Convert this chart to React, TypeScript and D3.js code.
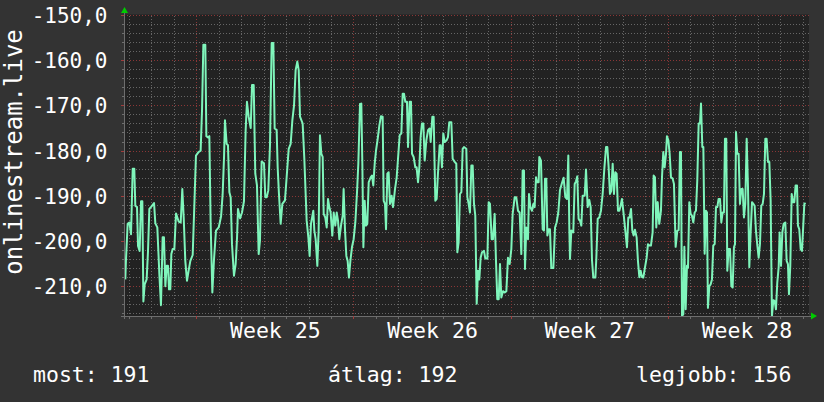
import React from 'react';
import * as d3 from 'd3';

const TITLE = 'onlinestream.live';
const Y_TICKS = [-150, -160, -170, -180, -190, -200, -210];
const WEEK_LABELS = ['Week 25', 'Week 26', 'Week 27', 'Week 28'];
const LEGEND_LABELS = ['most', 'átlag', 'legjobb'];
const LEGEND_VALUES = [191, 192, 156];

// [hours since start of graph window, value]
const SAMPLES: [number, number][] = [
  [1.4,-208.4],[2.1,-204.1],[3.9,-196.1],[5.7,-195.8],[7.5,-198.4],[9.3,-183.9],[11.0,-183.9],[12.1,-192.1],
  [13.9,-192.4],[15.0,-201],[16.7,-202.1],[18.2,-191.1],[19.6,-191.1],[20.7,-213.3],[22.1,-209.5],[24.2,-208.4],
  [25.6,-202.4],[27.1,-192.8],[29.2,-192.3],[32.1,-191.5],[33.5,-196],[35.6,-196.9],[37.8,-207.3],[39.5,-214.1],
  [41.3,-199.1],[42.7,-199.1],[44.2,-209.9],[45.6,-205.4],[47.0,-205.4],[48.1,-210.6],[49.5,-210.6],[50.6,-202.8],
  [52.0,-201.7],[53.8,-201.7],[55.6,-193.8],[58.4,-195.6],[60.6,-195.8],[62.3,-188.4],[63.8,-194.7],[65.5,-204.3],
  [67.3,-208.7],[69.1,-206.4],[70.9,-204.3],[73.4,-203],[75.5,-189.9],[76.9,-181],[79.8,-180.2],[81.9,-179.9],
  [83.4,-170.8],[84.8,-156.5],[86.9,-156.5],[88.0,-176.7],[89.8,-177],[91.2,-176.7],[92.6,-196.1],[94.4,-211.3],
  [96.2,-203.9],[98.3,-197.6],[101.2,-196.9],[103.7,-194.5],[105.4,-189.6],[106.9,-181.3],[107.9,-173.2],[109.7,-178.4],
  [111.1,-178.7],[112.6,-189.1],[114.0,-190.2],[115.4,-200.6],[117.5,-207.6],[119.3,-205],[120.8,-199.1],[121.8,-192.8],
  [124.0,-194.9],[126.1,-193.6],[128.2,-191.1],[130.0,-175.4],[131.4,-169.1],[133.2,-172.4],[135.4,-174.9],[136.8,-165.4],
  [138.6,-165.4],[140.3,-185],[142.1,-187.6],[143.9,-202.8],
  [145.3,-199.9],[147.1,-182.3],[149.6,-182.7],[151.0,-190.2],[152.5,-190.2],[154.2,-188.7],[156.0,-178.7],[157.8,-156.1],
  [159.6,-156.1],[161.0,-175],[163.1,-175.3],[164.2,-183.6],[165.6,-189.5],[167.4,-196.1],[169.2,-191.7],[172.0,-190.9],
  [173.8,-185.8],[176.0,-179.5],[178.1,-178.4],[179.9,-173.2],[181.7,-169.9],[183.4,-162.1],[185.2,-160.2],[186.7,-162.1],
  [188.1,-172.4],[190.9,-173.9],[192.7,-181.7],[195.2,-195.4],[197.0,-199.1],[198.4,-203.2],[199.8,-196.1],[202.3,-193.2],
  [203.4,-197.6],[204.8,-199.5],[206.6,-205.4],[208.0,-197.6],[209.4,-176.5],[210.9,-180.6],[212.3,-181.3],[213.4,-193.9],
  [215.1,-194.7],[216.6,-196.9],[218.0,-190.6],[219.4,-192.4],[220.8,-193.6],[222.6,-198.7],[224.1,-193.6],[225.8,-196.5],
  [227.3,-193.6],[228.7,-195.4],[230.1,-199.5],[231.9,-196.5],[233.7,-194.3],[234.7,-188.4],[236.2,-197.6],[237.6,-203.2],
  [239.0,-204.3],[240.4,-208],[241.9,-204.3],[243.6,-201.3],[245.4,-199.5],[247.2,-195.8],[249.0,-189.1],[250.4,-182.8],
  [252.2,-169.6],[253.6,-169.5],[254.7,-182.8],[255.8,-201.3],[257.2,-191],[258.6,-196.5],[260.0,-196.1],[261.5,-186.9],
  [263.6,-185.8],[265.0,-185.4],[266.4,-187.6],[267.9,-182.8],[269.3,-179.9],[271.1,-177.3],[272.9,-174.3],[274.6,-172.3],
  [276.4,-172.4],[277.5,-191],[278.9,-191.7],[280.0,-197.3],[281.4,-185],[282.8,-184.7],[284.2,-191.7],[286.0,-189.9],
  [287.5,-192.4],[289.6,-188.4],[291.4,-185.8],
  [294.6,-176.5],[296.4,-176.1],[297.8,-167.3],[299.2,-167.3],[300.6,-169.1],[302.4,-169.1],[303.5,-179.1],[305.3,-169.1],
  [306.7,-169.1],[307.8,-180.6],[309.5,-181.3],[311.3,-183.6],[312.7,-183.6],[314.2,-186.9],[315.6,-183.6],[317.0,-176.9],
  [318.4,-173.9],[319.9,-173.9],[321.3,-182.1],[323.1,-177.6],[324.9,-175.4],[326.6,-175],[327.7,-178],[329.5,-172.4],
  [330.9,-172.4],[332.7,-191],[334.1,-190.6],[335.5,-185],[337.3,-178.7],[338.4,-178.7],[339.8,-183.6],[341.2,-176.1],
  [342.7,-178],[344.8,-177.6],[346.2,-176.9],[347.6,-173.6],[349.8,-173.6],[351.2,-181.7],[353.4,-182.4],[355.1,-182.8],
  [356.2,-202.4],[357.6,-200.2],[359.0,-189.5],[360.5,-189.1],[361.9,-179.5],[363.3,-179.1],[365.8,-179.5],[366.9,-190.2],
  [368.3,-191.7],[369.7,-193.6],[371.2,-183.2],[372.6,-183.2],[374.0,-191.7],[375.4,-194.3],[376.9,-213.8],[378.3,-206.5],
  [379.7,-208.4],[381.1,-203.6],[382.6,-202.4],[384.7,-202.1],[386.1,-203.8],[388.3,-203.8],[389.7,-191.3],[391.1,-191.7],
  [392.9,-199.5],[394.3,-199.5],[396.1,-193.9],[397.5,-204.3],[398.9,-212.8],[400.4,-212.8],[401.8,-205],[403.2,-212.4],
  [405.0,-211],[406.8,-211.3],[408.6,-211],[410.3,-203.6],[412.1,-205],[413.9,-201.7],[415.3,-193.9],[417.5,-190.2],
  [419.2,-190.2],[421.0,-193.2],[422.8,-193.6],[424.6,-202.8],[426.0,-184.3],[427.4,-184.3],[428.5,-206.1],[429.9,-196.9],
  [431.7,-199.5],[432.8,-189.5],[434.2,-192.4],[436.0,-193.2],[437.4,-191.7],[438.8,-192.4],[440.3,-185.8],
  [441.3,-186.9],[443.1,-186.9],[443.8,-181.3],[445.6,-182.1],[447.4,-197.3],[448.8,-197.6],[449.9,-186.1],[451.3,-186.1],
  [452.4,-198.7],[453.8,-197.3],[455.2,-197.3],[456.6,-205.9],[458.8,-205.9],[460.6,-196.9],[462.3,-195.8],[464.1,-193.6],
  [465.9,-188.6],[468.0,-187.1],[469.8,-185.9],[471.6,-190.2],[473.4,-190.6],[474.8,-181],[475.9,-197.6],[476.6,-203.9],
  [478.0,-197.6],[480.1,-198],[481.6,-187.3],[483.0,-186.7],[484.4,-185.6],[485.8,-195],[487.3,-195.4],[488.7,-196.5],
  [490.1,-189.9],[492.3,-189.9],[493.7,-184.1],[495.5,-192.4],[497.2,-190.8],[498.7,-192.4],[500.1,-204.1],[501.5,-208],
  [503.7,-208],[504.7,-203.9],[506.2,-195],[507.9,-194.7],[509.7,-193.2],[511.5,-189.5],[513.3,-183.9],[515.1,-179.1],
  [516.5,-179.1],[517.9,-183.6],[519.3,-189.5],[520.7,-188.8],[522.2,-182.8],[523.6,-189.5],[525.0,-184.7],[526.4,-185],
  [527.9,-193.2],[529.3,-193.2],[530.7,-192.1],[532.1,-190.6],[533.9,-193.9],[535.7,-197.6],[537.5,-201.3],[538.9,-194.7],
  [540.3,-194.7],[541.8,-192.8],[543.2,-197.6],[544.6,-198.7],[546.0,-197.4],[547.8,-199.1],[549.2,-204.3],[550.7,-207.9],
  [552.1,-206.5],[553.5,-207.9],[554.9,-208],[556.7,-205.8],[558.5,-203.6],[559.9,-200.6],[561.4,-200.9],[563.1,-200.9],
  [564.9,-198],[566.0,-185.4],[567.4,-185.8],[568.8,-196.9],[570.3,-191.3],[572.0,-196.1],[573.8,-193.2],[574.9,-185.8],
  [576.3,-180.2],[577.7,-183.6],[579.2,-180.6],[580.2,-176.7],[581.7,-177.6],[583.1,-180.6],[584.5,-185.8],[586.3,-186.1],
  [587.7,-187.3],
  [589.5,-201.2],[591.3,-197.6],[592.7,-197.5],[594.1,-180.2],[595.2,-180.2],[596.3,-216.5],[597.7,-216.1],[598.8,-201.2],
  [600.2,-215],[601.6,-205.4],[602.7,-205.8],[604.1,-191.3],[605.5,-193.9],[606.9,-194.3],[608.4,-195.8],[609.8,-193.6],
  [611.2,-193.2],[612.6,-186.5],[614.1,-173.9],[615.5,-173.9],[616.6,-169.5],[618.0,-179.1],[619.1,-179.1],[620.5,-202.7],
  [621.9,-193.2],[623.0,-193.6],[624.0,-214.7],[625.5,-209.9],[626.9,-209.5],[628.3,-208.4],[629.7,-200.9],[631.2,-200.6],
  [632.6,-192.4],[634.0,-192.4],[635.4,-190.6],[636.9,-190.6],[638.3,-195.8],[639.7,-193.6],[641.1,-193.6],[642.2,-177.3],
  [643.6,-177.3],[644.7,-206.5],[646.1,-201.7],[647.6,-201.7],[649.0,-209.9],[650.4,-210.2],[651.8,-201.3],[652.9,-200.6],
  [654.0,-175.8],[655.4,-180.6],[656.8,-180.6],[658.2,-191.7],[659.7,-188.4],[661.1,-188.4],[662.5,-194.7],[663.9,-191.7],
  [665.4,-177.3],[666.8,-188],[668.2,-205.7],[669.6,-198.3],[671.1,-191.3],[672.5,-191.7],[673.9,-192.1],[675.3,-197.6],
  [676.8,-200.9],[678.2,-203.6],[679.6,-200.6],[681.0,-192.1],[682.5,-191.7],[683.9,-189.5],[685.3,-177.3],[686.7,-177.3],
  [688.2,-182.4],[689.6,-182.4],[691.0,-190.9],[692.4,-216.5],[693.9,-213],[695.3,-213.2],[696.7,-215],[698.1,-209.1],
  [699.6,-205.7],[700.6,-198],[702.1,-205.4],[703.5,-198],[704.9,-196.1],[706.7,-195.8],[708.1,-204.3],[709.5,-205],
  [710.6,-211.7],[712.0,-205.4],[713.5,-189.5],[714.9,-191.3],[716.3,-191.3],[717.7,-187.6],[719.2,-187.6],[720.2,-196.5],
  [721.6,-197.3],[723.1,-201.7],[724.5,-202.1],[725.6,-197.6],[727.0,-191.7],[728.4,-191.5],
];

const SPAN_HOURS = 732;
const FIRST_WEEK_START = 77.7; // hours from window start to start of Week 25
const Y_MIN = -216.5;
const Y_MAX = -150;

const W = 824;
const H = 402;
const FONT = '"DejaVu Sans Mono", monospace';

export default function App() {
  const left = 124, right = 809, top = 15.5, bottom = 316;
  const x = d3.scaleLinear().domain([0, SPAN_HOURS]).range([left, right]);
  const y = d3.scaleLinear().domain([Y_MIN, Y_MAX]).range([bottom, top]);
  const crisp = (v: number) => Math.floor(v) + 0.5;

  const minorY = d3.range(-216, -149, 2).filter((v) => v % 10 !== 0);
  const majorY = Y_TICKS;
  const dayHours: number[] = [];
  for (let h = FIRST_WEEK_START - 72; h <= SPAN_HOURS; h += 24) dayHours.push(h);
  const weekHours = WEEK_LABELS.map((_, i) => FIRST_WEEK_START + i * 168);
  const minorX = dayHours.filter((h) => !weekHours.some((w) => Math.abs(w - h) < 1));

  const line = d3
    .line<[number, number]>()
    .x((d) => x(d[0]))
    .y((d) => y(d[1]));

  const minorColor = '#666666';
  const majorColor = '#8a3636';

  const legendX = [33, 328, 636];

  return (
    <svg
      width={W}
      height={H}
      style={{ position: 'absolute', left: 0, top: 0, display: 'block' }}
      fontFamily={FONT}
    >
      <defs>
        <clipPath id="plot">
          <rect x={left} y={top - 1} width={right - left} height={bottom - top + 1} />
        </clipPath>
      </defs>
      <rect x={0} y={0} width={W} height={H} fill="#333333" />
      <rect x={left} y={top - 1} width={right - left} height={bottom - top + 1} fill="#222222" />

      {/* minor grid */}
      <g shapeRendering="crispEdges" stroke={minorColor} strokeWidth={1} strokeDasharray="1,2">
        {minorY.map((v) => (
          <line key={'my' + v} x1={left} x2={right} y1={crisp(y(v))} y2={crisp(y(v))} />
        ))}
        {minorX.map((h) => (
          <line key={'mx' + h} x1={crisp(x(h))} x2={crisp(x(h))} y1={top} y2={bottom} />
        ))}
      </g>
      {/* major grid */}
      <g shapeRendering="crispEdges" stroke={majorColor} strokeWidth={1} strokeDasharray="1,2">
        {majorY.map((v) => (
          <line key={'My' + v} x1={left} x2={right} y1={crisp(y(v))} y2={crisp(y(v))} />
        ))}
        {weekHours.map((h) => (
          <line key={'Mx' + h} x1={crisp(x(h))} x2={crisp(x(h))} y1={top} y2={bottom} />
        ))}
      </g>

      {/* data line */}
      <path
        d={line(SAMPLES) || ''}
        fill="none"
        stroke="#7ff5bb"
        strokeWidth={2}
        strokeLinejoin="round"
        clipPath="url(#plot)"
      />

      {/* axes */}
      <g shapeRendering="crispEdges">
        <line x1={left - 3} x2={814} y1={bottom + 0.5} y2={bottom + 0.5} stroke="#6e6e6e" />
        <line x1={left + 0.5} x2={left + 0.5} y1={bottom + 3} y2={10} stroke="#6e6e6e" />
        {minorX.map((h) => (
          <line key={'tx' + h} x1={crisp(x(h))} x2={crisp(x(h))} y1={bottom} y2={bottom + 3} stroke="#6e6e6e" />
        ))}
        {weekHours.map((h) => (
          <line key={'Tx' + h} x1={crisp(x(h))} x2={crisp(x(h))} y1={bottom} y2={bottom + 3} stroke="#a03c3c" />
        ))}
        {minorY.map((v) => (
          <line key={'ty' + v} x1={left - 2} x2={left} y1={crisp(y(v))} y2={crisp(y(v))} stroke="#6e6e6e" />
        ))}
        {majorY.map((v) => (
          <line key={'Ty' + v} x1={left - 3} x2={left} y1={crisp(y(v))} y2={crisp(y(v))} stroke="#a03c3c" />
        ))}
      </g>
      {/* arrows */}
      <polygon points={`${left - 3},13 ${left + 4},13 ${left + 0.5},7`} fill="#00cc00" />
      <polygon points={`811,312.5 811,319.5 817,316`} fill="#00cc00" />

      {/* y labels */}
      {Y_TICKS.map((v) => (
        <text key={'yl' + v} x={107.5} y={y(v) + 7.5} fill="#ffffff" fontSize={21} textAnchor="end">
          {v.toFixed(1).replace('.', ',')}
        </text>
      ))}

      {/* title */}
      <text
        transform={`translate(22,152) rotate(-90)`}
        fill="#ffffff"
        fontSize={24}
        textAnchor="middle"
      >
        {TITLE}
      </text>

      {/* week labels */}
      {WEEK_LABELS.map((lbl, i) => (
        <text
          key={lbl}
          x={x(weekHours[i] + 84)}
          y={337.5}
          fill="#ffffff"
          fontSize={21.5}
          textAnchor="middle"
        >
          {lbl}
        </text>
      ))}

      {/* legend */}
      {LEGEND_LABELS.map((lbl, i) => (
        <text key={lbl} x={legendX[i]} y={382} fill="#ffffff" fontSize={21.5} xmlSpace="preserve">
          {`${lbl}: ${LEGEND_VALUES[i]}`}
        </text>
      ))}
    </svg>
  );
}
